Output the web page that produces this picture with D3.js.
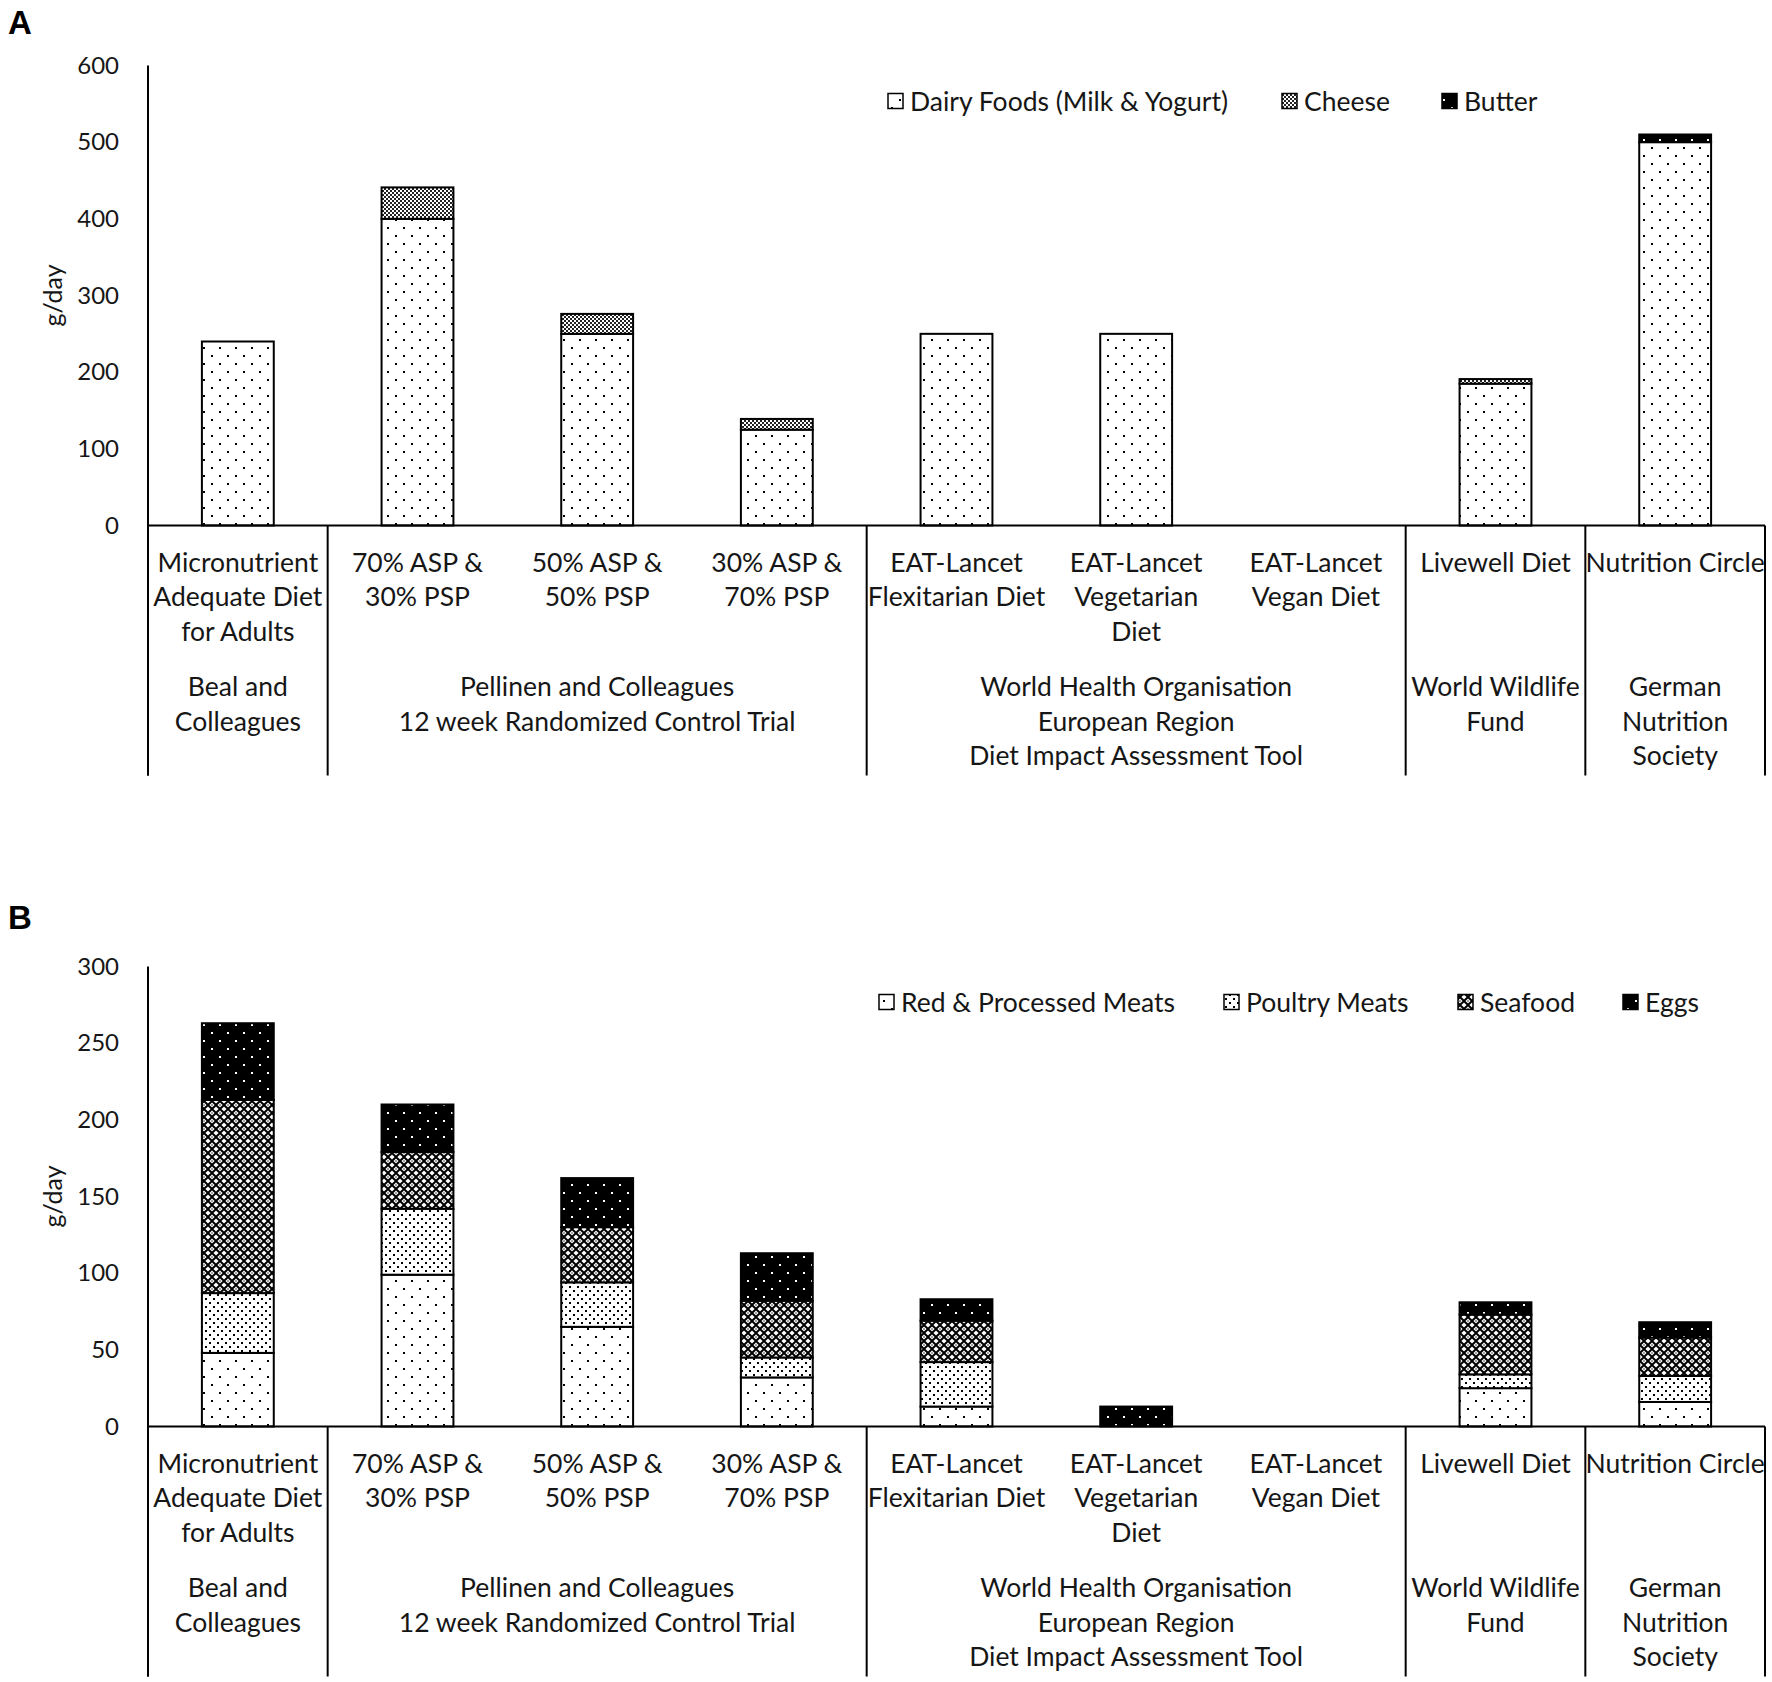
<!DOCTYPE html>
<html><head><meta charset="utf-8">
<script src="https://cdn.jsdelivr.net/npm/d3@7"></script>
<style>
body{margin:0;background:#fff;}
svg{display:block;}
text{font-family:Lato, "Open Sans", sans-serif; fill:#161616;}
</style>
</head><body>
<svg id="chart" width="1772" height="1682"></svg>
<script>
// ---------- DATA ----------
const categories = [
  "Micronutrient\nAdequate Diet\nfor Adults",
  "70% ASP &\n30% PSP",
  "50% ASP &\n50% PSP",
  "30% ASP &\n70% PSP",
  "EAT-Lancet\nFlexitarian Diet",
  "EAT-Lancet\nVegetarian\nDiet",
  "EAT-Lancet\nVegan Diet",
  "Livewell Diet",
  "Nutrition Circle"
];
const groupLabels = [
  "Beal and\nColleagues",
  "Pellinen and Colleagues\n12 week Randomized Control Trial",
  "World Health Organisation\nEuropean Region\nDiet Impact Assessment Tool",
  "World Wildlife\nFund",
  "German\nNutrition\nSociety"
];
const groupSpans = [1, 3, 3, 1, 1];

const dairySeriesNames = ["Dairy Foods (Milk & Yogurt)", "Cheese", "Butter"];
const dairyMilkYogurt = [240, 400, 250, 125, 250, 250, 0, 185, 500];
const cheese          = [0, 41, 26, 14, 0, 0, 0, 6, 0];
const butter          = [0, 0, 0, 0, 0, 0, 0, 0, 10];
const dairyTicks = [0, 100, 200, 300, 400, 500, 600];

const proteinSeriesNames = ["Red & Processed Meats", "Poultry Meats", "Seafood", "Eggs"];
const redProcessedMeats = [48, 99, 65, 32, 13, 0, 0, 25, 16];
const poultryMeats      = [39, 43, 29, 13, 29, 0, 0, 9, 17];
const seafood           = [126, 37, 36, 37, 27, 0, 0, 39, 25];
const eggs              = [50, 31, 32, 31, 14, 13, 0, 8, 10];
const proteinTicks = [0, 50, 100, 150, 200, 250, 300];

// ---------- SETUP ----------
const svg = d3.select("#chart");
const defs = svg.append("defs");

function dotPattern(id, size, bg, fg, pts, r) {
  const p = defs.append("pattern").attr("id", id).attr("patternUnits", "userSpaceOnUse")
    .attr("width", size).attr("height", size);
  p.append("rect").attr("width", size).attr("height", size).attr("fill", bg);
  pts.forEach(([x, y]) => p.append("rect").attr("x", x - r).attr("y", y - r)
    .attr("width", 2 * r).attr("height", 2 * r).attr("fill", fg));
}
dotPattern("pLightDots", 16, "#fff", "#000", [[4, 4], [12, 12]], 1);
dotPattern("pDarkDots", 16, "#000", "#fff", [[4, 4], [12, 12]], 1);
dotPattern("pDenseDots", 8, "#fff", "#000", [[2, 2], [6, 6]], 1);
(function () {
  const p = defs.append("pattern").attr("id", "pChecker").attr("patternUnits", "userSpaceOnUse")
    .attr("width", 4).attr("height", 4);
  p.append("rect").attr("width", 4).attr("height", 4).attr("fill", "#fff");
  p.append("rect").attr("width", 2).attr("height", 2).attr("fill", "#222");
  p.append("rect").attr("x", 2).attr("y", 2).attr("width", 2).attr("height", 2).attr("fill", "#222");
})();
(function () {
  const s = 8, h = 2.6;
  const p = defs.append("pattern").attr("id", "pTrellis").attr("patternUnits", "userSpaceOnUse")
    .attr("width", s).attr("height", s);
  p.append("rect").attr("width", s).attr("height", s).attr("fill", "#000");
  [[0, 0], [s, 0], [0, s], [s, s], [s / 2, s / 2]].forEach(([x, y]) => {
    p.append("path").attr("d", `M${x - h},${y}L${x},${y - h}L${x + h},${y}L${x},${y + h}Z`).attr("fill", "#fff");
  });
  [[s / 2, s / 2]].forEach(([x, y]) => p.append("rect").attr("x", x - 0.6).attr("y", y - 0.6)
    .attr("width", 1.2).attr("height", 1.2).attr("fill", "#000"));
})();

const X0 = 148, X1 = 1765;
const x = d3.scaleBand().domain(d3.range(categories.length)).range([X0, X1])
  .paddingInner(0.6).paddingOuter(0.3);
const step = x.step();
const LABEL_SIZE = "26.5px";

function drawPanel(cfg) {
  const g = svg.append("g").attr("transform", `translate(0,${cfg.offset})`);
  const top = 65.5, base = 525.5;
  const y = d3.scaleLinear().domain([0, cfg.max]).range([base, top]);

  // panel letter
  g.append("text").attr("x", 8).attr("y", cfg.letterY).text(cfg.letter)
    .style("font-family", "'Liberation Sans', Arial, sans-serif").style("font-weight", "bold")
    .style("font-size", "33px").style("fill", "#000");

  // y axis
  const yAxis = d3.axisLeft(y).tickValues(cfg.ticks).tickSize(0).tickPadding(29);
  const ya = g.append("g").attr("transform", `translate(${X0},0)`).call(yAxis);
  ya.select(".domain").remove();
  ya.selectAll("text").style("font-family", "Lato, sans-serif").style("font-size", "24px")
    .attr("fill", "#161616");
  g.append("line").attr("x1", X0).attr("x2", X0).attr("y1", top).attr("y2", base + 250)
    .attr("stroke", "#000").attr("stroke-width", 2);

  // y label
  g.append("text").attr("transform", `translate(52,${(top + base) / 2}) rotate(-90)`)
    .attr("text-anchor", "middle").attr("dominant-baseline", "central")
    .style("font-size", "25px").text("g/day");

  // stacked bars
  const rows = categories.map((c, i) => {
    const o = { i };
    cfg.names.forEach((n, k) => o[n] = cfg.values[k][i]);
    return o;
  });
  const stacked = d3.stack().keys(cfg.names)(rows);
  stacked.forEach((layer, k) => {
    g.append("g").selectAll("rect").data(layer.filter(d => d[1] - d[0] > 0)).join("rect")
      .attr("x", d => x(d.data.i)).attr("width", x.bandwidth())
      .attr("y", d => y(d[1])).attr("height", d => y(d[0]) - y(d[1]))
      .attr("fill", cfg.fills[k]).attr("stroke", "#000").attr("stroke-width", 2);
  });

  // baseline and separators
  g.append("line").attr("x1", X0).attr("x2", X1).attr("y1", base).attr("y2", base)
    .attr("stroke", "#000").attr("stroke-width", 2);
  let acc = 0;
  const bounds = [0];
  groupSpans.forEach(s => { acc += s; bounds.push(acc); });
  g.selectAll(".sep").data(bounds).join("line").attr("class", "sep")
    .attr("x1", b => X0 + b * step).attr("x2", b => X0 + b * step)
    .attr("y1", base).attr("y2", base + 250).attr("stroke", "#000").attr("stroke-width", 2);

  // category labels
  const lh = 34.5;
  categories.forEach((c, i) => {
    const t = g.append("text").attr("text-anchor", "middle").style("font-size", LABEL_SIZE);
    c.split("\n").forEach((line, j) => {
      t.append("tspan").attr("x", x(i) + x.bandwidth() / 2).attr("y", 561.7 + j * lh)
        .attr("dominant-baseline", "central").text(line);
    });
  });
  // group labels
  groupSpans.forEach((s, k) => {
    const cx = X0 + (bounds[k] + s / 2) * step;
    const t = g.append("text").attr("text-anchor", "middle").style("font-size", LABEL_SIZE);
    groupLabels[k].split("\n").forEach((line, j) => {
      t.append("tspan").attr("x", cx).attr("y", 686 + j * lh)
        .attr("dominant-baseline", "central").text(line);
    });
  });

  // legend
  const ly = 101;
  cfg.names.forEach((n, k) => {
    const lx = cfg.legendX[k];
    g.append("rect").attr("x", lx).attr("y", ly - 7.5).attr("width", 15).attr("height", 15)
      .attr("fill", cfg.fills[k]).attr("stroke", "#000").attr("stroke-width", 1.5);
    g.append("text").attr("x", lx + 22).attr("y", ly).attr("dominant-baseline", "central")
      .style("font-size", LABEL_SIZE).text(n);
  });
}

drawPanel({
  letter: "A", letterY: 34, offset: 0, max: 600, ticks: dairyTicks,
  names: dairySeriesNames, values: [dairyMilkYogurt, cheese, butter],
  fills: ["url(#pLightDots)", "url(#pChecker)", "url(#pDarkDots)"],
  legendX: [888, 1282, 1442]
});
drawPanel({
  letter: "B", letterY: 28, offset: 901, max: 300, ticks: proteinTicks,
  names: proteinSeriesNames, values: [redProcessedMeats, poultryMeats, seafood, eggs],
  fills: ["url(#pLightDots)", "url(#pDenseDots)", "url(#pTrellis)", "url(#pDarkDots)"],
  legendX: [879, 1224, 1458, 1623]
});
</script>
</body></html>
